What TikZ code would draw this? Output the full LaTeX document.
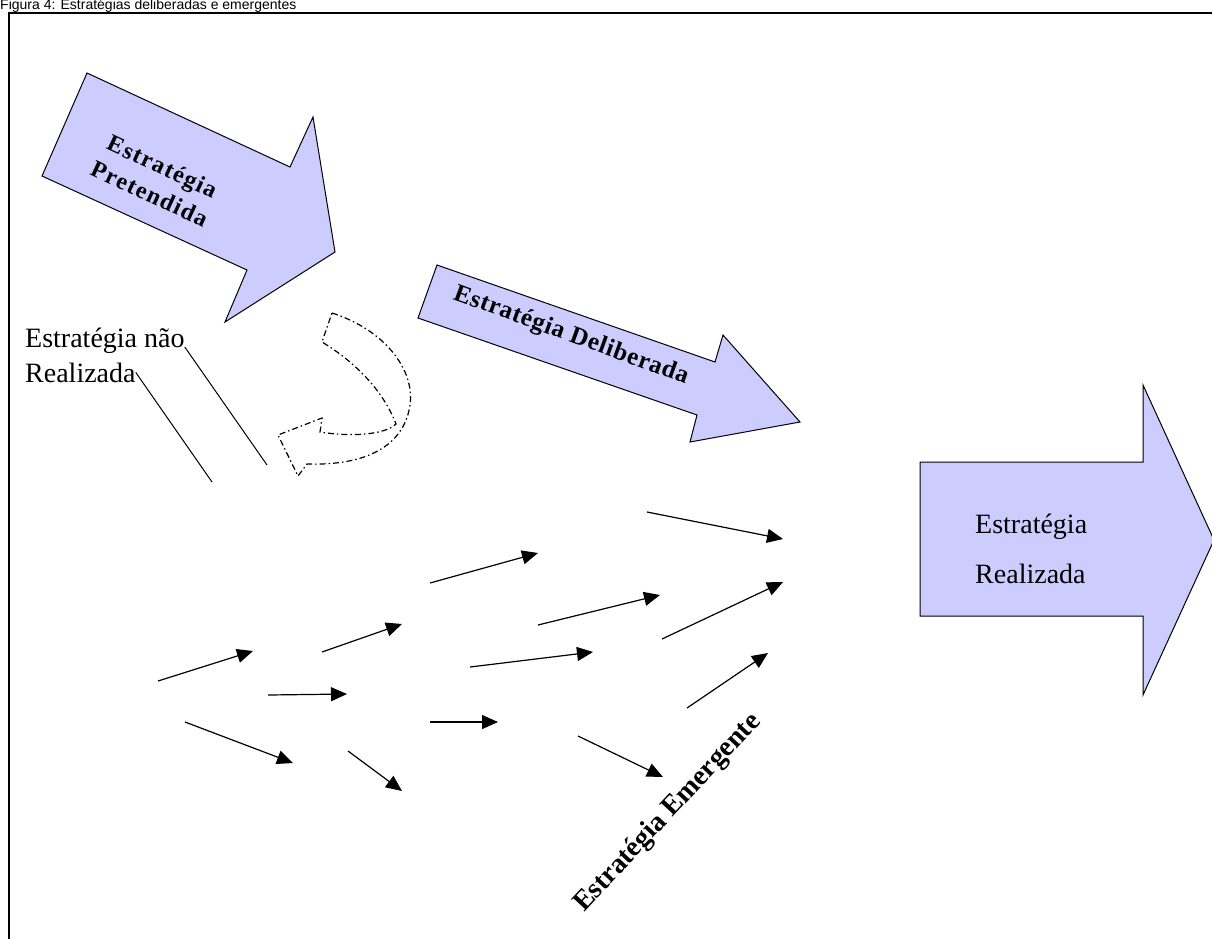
\documentclass[tikz,border=0pt]{standalone}
\usepackage{fontspec}
\setmainfont{Liberation Serif}
\newfontfamily\captionfont{Liberation Sans}
\newfontfamily\spacedfont[LetterSpace=6]{Liberation Serif}
\newfontfamily\lightspacedfont[LetterSpace=3]{Liberation Serif}
\usetikzlibrary{arrows.meta, positioning}
\usepackage{xcolor}
\definecolor{arrowfill}{HTML}{CCCCFF}

\tikzset{
  bigarrow/.style={draw=black, line width=1pt, fill=arrowfill, line join=miter},
  emarrow/.style={-{Triangle[length=16pt,width=14pt]}, line width=1.2pt},
  turnarrow/.style={draw=black, line width=1.2pt, dash pattern=on 6pt off 3pt on 1.5pt off 3pt},
  stratlabel/.style={inner sep=0pt, font=\fontsize{28}{30}\selectfont},
  spacedlabel/.style={inner sep=0pt, font=\spacedfont\bfseries\fontsize{24}{30}\selectfont}
}

\begin{document}
\begin{tikzpicture}[x=1pt, y=-1pt]
\useasboundingbox (0,0) rectangle (1212,938);

% frame and caption
\draw[line width=2pt] (9,940) -- (9,12.5) -- (1214,12.5);
\node[anchor=base west, inner sep=0pt, font=\captionfont\fontsize{14}{16}\selectfont] (caption) at (0,9.5) {Figura 4: Estratégias deliberadas e emergentes};

% intended strategy
\draw[bigarrow] (87,73) -- (290,167) -- (313,117) -- (335,252) -- (225,322) -- (247,270) -- (42,176) -- cycle;
\node[spacedlabel, rotate=-25, align=center] (pretendida) at (156,180) {Estratégia\\Pretendida};

% deliberate strategy
\draw[bigarrow] (437,265) -- (715,362) -- (723,335) -- (800,422) -- (690,442) -- (697,415) -- (418,318) -- cycle;
\node[spacedlabel, font=\lightspacedfont\bfseries\fontsize{25}{30}\selectfont, rotate=-20] (deliberada) at (571,336) {Estratégia Deliberada};

% realized strategy
\draw[bigarrow] (920,462) -- (1143,462) -- (1143,385) -- (1214,540) -- (1143,695) -- (1143,616) -- (920,616) -- cycle;
\node[stratlabel, anchor=base west] (realizadaA) at (975,533) {Estratégia};
\node[stratlabel, anchor=base west] (realizadaB) at (975,583) {Realizada};

% unrealized strategy
\node[stratlabel, anchor=base west] (naoA) at (25,347) {Estratégia não};
\node[stratlabel, anchor=base west] (naoB) at (25,382) {Realizada};
\coordinate (naoEndA) at (267,465);
\coordinate (naoEndB) at (212,482);
\draw[line width=1pt] (naoA.base east) -- (naoEndA);
\draw[line width=1pt] (naoB.east) -- (naoEndB);

% turn-back arrow
\draw[turnarrow] (332,313) .. controls (385,330) and (415,370) .. (410,405)
  .. controls (405,440) and (375,466) .. (307,464) -- (298,476) -- (278,435)
  -- (322,418) -- (320,432) .. controls (350,437) and (385,435) .. (396,424)
  .. controls (385,395) and (360,365) .. (322,342) -- cycle;

% emergent strategy
\foreach \sx/\sy/\ex/\ey in {158/681/253/651, 268/695/347/694, 185/722/293/763,
    322/652/402/624, 348/751/402/791, 430/583/538/553, 430/722/498/722,
    470/667/593/652, 538/625/660/595, 647/512/783/539, 662/639/783/582,
    687/708/768/653, 578/736/663/777}
  \draw[emarrow] (\sx,\sy) -- (\ex,\ey);
\node[stratlabel, font=\bfseries\fontsize{28}{30}\selectfont, rotate=47] (emergente) at (668,813) {Estratégia Emergente};

\end{tikzpicture}
\end{document}
